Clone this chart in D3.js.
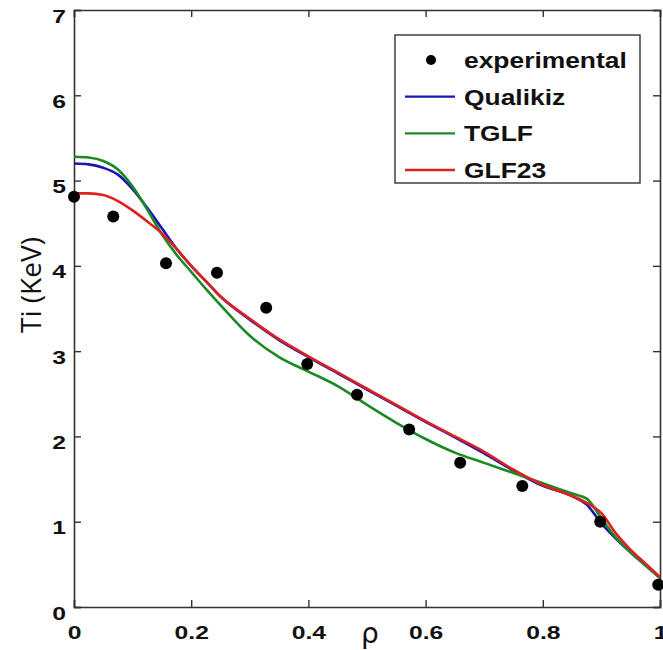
<!DOCTYPE html>
<html>
<head>
<meta charset="utf-8">
<script src="https://cdn.jsdelivr.net/npm/d3@7"></script>
<style>
  body { margin: 0; background: #fff; }
  svg { display: block; }
</style>
</head>
<body>
<div id="root"></div>
<script>

// ---- data ----
const expRho = [0, 0.067, 0.157, 0.244, 0.328, 0.398, 0.483, 0.572, 0.659, 0.765, 0.898, 0.997];
const expTi  = [4.81, 4.58, 4.03, 3.92, 3.51, 2.85, 2.49, 2.08, 1.69, 1.42, 1.00, 0.26];

const rhoGrid = [0, 0.025, 0.05, 0.075, 0.1, 0.125, 0.15, 0.175, 0.2, 0.225, 0.25, 0.3, 0.35, 0.4,
                 0.45, 0.5, 0.55, 0.6, 0.65, 0.7, 0.75, 0.8, 0.85, 0.875, 0.9, 0.925, 0.95, 0.975, 1.0];
const qualikizTi = [5.20, 5.19, 5.15, 5.07, 4.90, 4.68, 4.44, 4.20, 4.00, 3.82, 3.64, 3.37, 3.13, 2.93,
                    2.74, 2.55, 2.36, 2.17, 1.99, 1.80, 1.60, 1.42, 1.30, 1.20, 0.98, 0.80, 0.64, 0.49, 0.34];
const tglfTi     = [5.28, 5.27, 5.23, 5.13, 4.93, 4.66, 4.37, 4.13, 3.93, 3.73, 3.54, 3.18, 2.93, 2.76,
                    2.59, 2.37, 2.16, 1.97, 1.81, 1.69, 1.57, 1.45, 1.33, 1.27, 1.04, 0.81, 0.64, 0.49, 0.34];
const glf23Ti    = [4.85, 4.85, 4.83, 4.76, 4.65, 4.52, 4.38, 4.20, 4.00, 3.82, 3.64, 3.38, 3.14, 2.94,
                    2.75, 2.56, 2.37, 2.18, 2.00, 1.82, 1.61, 1.43, 1.30, 1.22, 1.10, 0.86, 0.67, 0.51, 0.35];

const seriesNames  = ["Qualikiz", "TGLF", "GLF23"];
const seriesColors = ["#1717b0", "#1a8a22", "#e0201f"];
const xTicks = [0, 0.2, 0.4, 0.6, 0.8, 1];
const yTicks = [0, 1, 2, 3, 4, 5, 6, 7];

const width = 663;
const height = 650;
const margin = {top: 10, right: 3, bottom: 43, left: 74};

const x = d3.scaleLinear().domain([0, 1]).range([margin.left, width - margin.right]);
const y = d3.scaleLinear().domain([0, 7]).range([height - margin.bottom, margin.top]);

const svg = d3.select("#root")
  .append("svg")
    .attr("width", width)
    .attr("height", height);

const tickFont = "'Liberation Sans', Arial, sans-serif";
const stretch = 1.3; // the figure's text is stretched horizontally

//axes, ticks pointing inward on all four sides
const bottomAxis = svg.append("g")
    .attr("transform", `translate(0,${ y(0) })`)
    .call(d3.axisBottom(x).tickValues(xTicks).tickSize(-7).tickFormat(d3.format("~g")));
const leftAxis = svg.append("g")
    .attr("transform", `translate(${ x(0) },0)`)
    .call(d3.axisLeft(y).tickValues(yTicks).tickSize(-7).tickFormat(d3.format("d")));
const topAxis = svg.append("g")
    .attr("transform", `translate(0,${ y(7) })`)
    .call(d3.axisTop(x).tickValues(xTicks).tickSize(-7).tickFormat(""));
const rightAxis = svg.append("g")
    .attr("transform", `translate(${ x(1) },0)`)
    .call(d3.axisRight(y).tickValues(yTicks).tickSize(-7).tickFormat(""));

[bottomAxis, leftAxis, topAxis, rightAxis].forEach(g => {
  g.select(".domain").attr("stroke", "#333").attr("stroke-width", 1.6);
  g.selectAll(".tick line").attr("stroke", "#333").attr("stroke-width", 1.4);
});

bottomAxis.selectAll(".tick text")
    .attr("y", null).attr("dy", null)
    .attr("transform", `translate(0,32) scale(${ stretch },1)`)
    .attr("text-anchor", "middle")
    .style("font-family", tickFont).style("font-weight", "bold").style("font-size", "19px")
    .attr("fill", "#111");

leftAxis.selectAll(".tick text")
    .attr("x", null).attr("dy", null)
    .attr("transform", `translate(-8,12) scale(${ stretch },1)`)
    .attr("text-anchor", "end")
    .style("font-family", tickFont).style("font-weight", "bold").style("font-size", "19px")
    .attr("fill", "#111");

//axis titles
svg.append("text")
    .attr("x", x(0.5) + 3)
    .attr("y", 643)
    .attr("text-anchor", "middle")
    .style("font-family", "'DejaVu Sans', sans-serif")
    .style("font-size", "28px")
    .attr("fill", "#111")
    .text("ρ");

svg.append("text")
    .attr("transform", `translate(41,${ 285 }) rotate(-90)`)
    .attr("text-anchor", "middle")
    .style("font-family", "'Open Sans', sans-serif")
    .style("font-size", "28px")
    .attr("fill", "#111")
    .text("Ti (KeV)");

//model curves
const line = d3.line()
    .x((d, i) => x(rhoGrid[i]))
    .y(d => y(d))
    .curve(d3.curveMonotoneX);

const curves = [qualikizTi, tglfTi, glf23Ti];
svg.append("g")
  .selectAll("path")
    .data(curves)
    .join("path")
      .attr("d", d => line(d))
      .attr("fill", "none")
      .attr("stroke", (d, i) => seriesColors[i])
      .attr("stroke-width", 2.6)
      .attr("stroke-linejoin", "round");

//experimental points
svg.append("g")
  .selectAll("circle")
    .data(expRho)
    .join("circle")
      .attr("cx", d => x(d))
      .attr("cy", (d, i) => y(expTi[i]))
      .attr("r", 6)
      .attr("fill", "#000");

//legend
const legend = svg.append("g").attr("transform", "translate(395,35)");
legend.append("rect")
    .attr("width", 245)
    .attr("height", 148)
    .attr("fill", "#fff")
    .attr("stroke", "#333")
    .attr("stroke-width", 1.4);

const legendItems = ["experimental", ...seriesNames];
const rowY = d3.scalePoint().domain(legendItems).range([25, 135]);

const rows = legend.selectAll("g.row")
    .data(legendItems)
    .join("g")
      .attr("class", "row")
      .attr("transform", d => `translate(0,${ rowY(d) })`);

rows.filter((d, i) => i === 0)
  .append("circle")
    .attr("cx", 36)
    .attr("r", 5)
    .attr("fill", "#000");

rows.filter((d, i) => i > 0)
  .append("line")
    .attr("x1", 10)
    .attr("x2", 60)
    .attr("stroke", d => seriesColors[seriesNames.indexOf(d)])
    .attr("stroke-width", 2.4);

rows.append("text")
    .attr("transform", "translate(69,8) scale(1.2,1)")
    .style("font-family", tickFont)
    .style("font-weight", "bold")
    .style("font-size", "22px")
    .attr("fill", "#111")
    .text(d => d);

</script>
</body>
</html>
